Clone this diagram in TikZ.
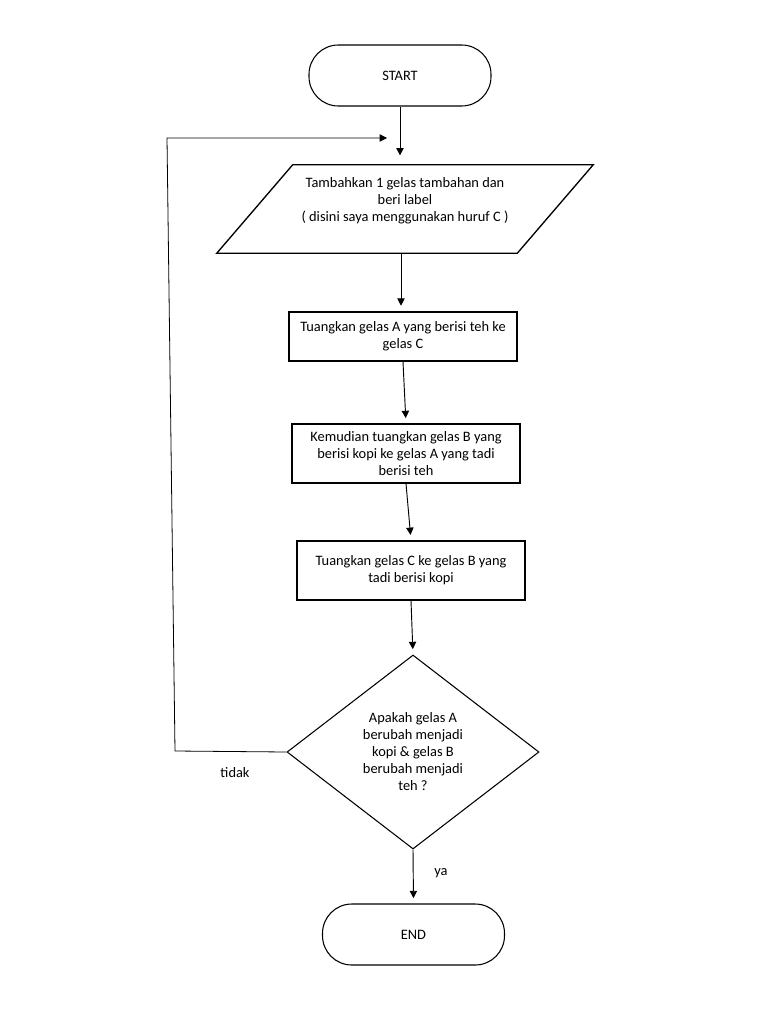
\documentclass[tikz,border=0pt]{standalone}
\usepackage{fontspec}
\setmainfont{Carlito}
\usetikzlibrary{shapes.geometric,arrows.meta,calc}
\begin{document}
\begin{tikzpicture}[x=0.75pt,y=-0.75pt,
  base/.style={font=\fontsize{10.8}{12.75}\selectfont, align=center, inner sep=0pt, text=black},
  term/.style={base, draw, line width=0.8pt, rounded corners=22pt, minimum width=136.5pt, minimum height=45.75pt},
  proc/.style={base, draw, line width=0.8pt, minimum width=171pt},
  pshape/.style={inner sep=0pt, minimum width=225pt, minimum height=66pt},
  dec/.style={base, draw, diamond, line width=0.8pt, aspect=1.3, minimum width=189pt, minimum height=145.5pt},
  arr/.style={line width=0.7pt, -{Triangle[length=5.5pt,width=5.5pt]}, shorten >=4pt},
  lbl/.style={base}
]
\useasboundingbox (0,0) rectangle (768,1024);

\node[term] (start) at (400,75.5) {START};

\node[pshape] (p) at (405,209) {};
\draw[line width=1pt] ($(p.north west)+(38,0)$) -- ($(p.north east)+(38,0)$)
  -- ($(p.south east)-(38,0)$) -- ($(p.south west)-(38,0)$) -- cycle;
\node[base] (ptext) at (405,201) {Tambahkan 1 gelas tambahan dan\\beri label\\( disini saya menggunakan huruf C )};

\node[proc, line width=1.4pt, minimum height=36.75pt] (b1) at (403,336.5) {Tuangkan gelas A yang berisi teh ke\\gelas C};
\node[proc, minimum height=44.25pt] (b2) at (406,453.5) {Kemudian tuangkan gelas B yang\\berisi kopi ke gelas A yang tadi\\berisi teh};
\node[proc, line width=1.1pt, minimum height=44.25pt] (b3) at (411,570.5) {Tuangkan gelas C ke gelas B yang\\tadi berisi kopi};
\node[dec] (d) at (413,752) {Apakah gelas A\\berubah menjadi\\kopi \& gelas B\\berubah menjadi\\teh ?};
\node[term] (end) at (413.5,934.5) {END};

\draw[arr, shorten >=7pt] (start.south) -- (start.south |- p.north);
\draw[arr] (ptext.south |- p.south) ++(-4,0) coordinate (pout) -- (pout |- b1.north);
\draw[arr] (b1.south) -- (b2.north);
\draw[arr] (b2.south) -- (b3.north);
\draw[arr] (b3.south) -- (d.north);
\draw[arr] (d.south) -- (end.north);

\coordinate (lb) at (175,751);
\coordinate (lt) at (167,138);
\coordinate (lp) at (387,138);
\draw[line width=0.6pt, -{Triangle[length=5.5pt,width=5.5pt]}] (d.west) -- (lb) -- (lt) -- (lp);

\node[lbl] (tidak) at (235,773) {tidak};
\node[lbl] (ya) at (441,873) {ya};
\end{tikzpicture}
\end{document}
